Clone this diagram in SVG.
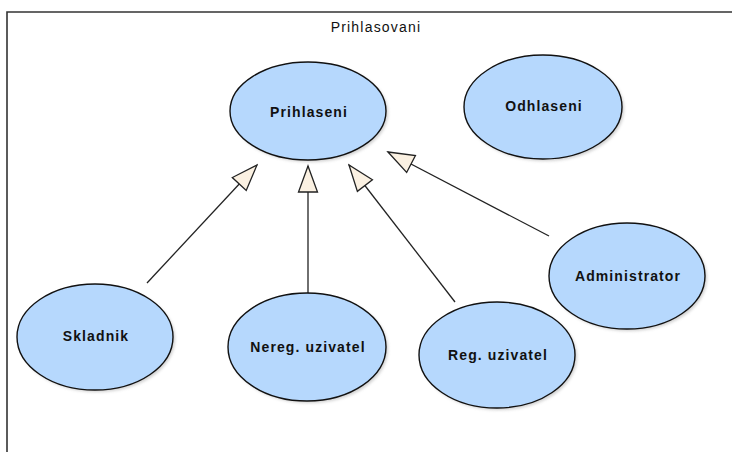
<svg xmlns="http://www.w3.org/2000/svg" width="732" height="452" viewBox="0 0 732 452">
<style>
.uc{fill:#b6d8fd;stroke:#111;stroke-width:1.4}
.sh{fill:#888;opacity:0.4;filter:url(#blur)}
.lbl{font-family:"Liberation Sans",Arial,sans-serif;font-weight:bold;font-size:14px;letter-spacing:1.1px;fill:#111;text-anchor:middle;dominant-baseline:central}
.title{font-family:"Liberation Sans",Arial,sans-serif;font-size:14px;letter-spacing:1.2px;fill:#111;text-anchor:middle}
.gen{fill:none;stroke:#222;stroke-width:1.3}
</style>
<defs>
<filter id="blur" x="-10%" y="-10%" width="120%" height="120%"><feGaussianBlur stdDeviation="1.5"/></filter>
<marker id="tri" markerUnits="userSpaceOnUse" markerWidth="30" markerHeight="24" viewBox="0 0 30 24" refX="28" refY="12" orient="auto">
<path d="M28,12 L2,2.5 L2,21.5 Z" fill="#fbf1e2" stroke="#222" stroke-width="1.3" stroke-linejoin="miter"/>
</marker>
</defs>
<rect width="732" height="452" fill="#fff"/>
<path d="M7,452 V12 H732" fill="none" stroke="#333" stroke-width="1.6"/>
<text class="title" x="376" y="32">Prihlasovani</text>

<g id="connectors">
<line class="gen" x1="147" y1="283" x2="257" y2="165" marker-end="url(#tri)"/>
<line class="gen" x1="308" y1="294" x2="308" y2="166" marker-end="url(#tri)"/>
<line class="gen" x1="455" y1="302" x2="349" y2="165" marker-end="url(#tri)"/>
<line class="gen" x1="549" y1="236" x2="388" y2="152" marker-end="url(#tri)"/>
</g>

<g id="prihlaseni">
<ellipse class="sh" cx="310" cy="113" rx="78" ry="49"/>
<ellipse class="uc" cx="308" cy="111" rx="78" ry="49"/>
<text class="lbl" x="309" y="112">Prihlaseni</text>
</g>
<g id="odhlaseni">
<ellipse class="sh" cx="545" cy="109" rx="79" ry="52"/>
<ellipse class="uc" cx="543" cy="107" rx="79" ry="52"/>
<text class="lbl" x="544" y="106">Odhlaseni</text>
</g>
<g id="skladnik">
<ellipse class="sh" cx="97" cy="339" rx="78" ry="53"/>
<ellipse class="uc" cx="95" cy="337" rx="78" ry="53"/>
<text class="lbl" x="96" y="336">Skladnik</text>
</g>
<g id="nereg">
<ellipse class="sh" cx="309" cy="349" rx="79" ry="54"/>
<ellipse class="uc" cx="307" cy="347" rx="79" ry="54"/>
<text class="lbl" x="308" y="347">Nereg. uzivatel</text>
</g>
<g id="reg">
<ellipse class="sh" cx="499" cy="357" rx="78" ry="53"/>
<ellipse class="uc" cx="497" cy="355" rx="78" ry="53"/>
<text class="lbl" x="498" y="355">Reg. uzivatel</text>
</g>
<g id="administrator">
<ellipse class="sh" cx="629" cy="278" rx="78" ry="53"/>
<ellipse class="uc" cx="627" cy="276" rx="78" ry="53"/>
<text class="lbl" x="628" y="276">Administrator</text>
</g>
</svg>
